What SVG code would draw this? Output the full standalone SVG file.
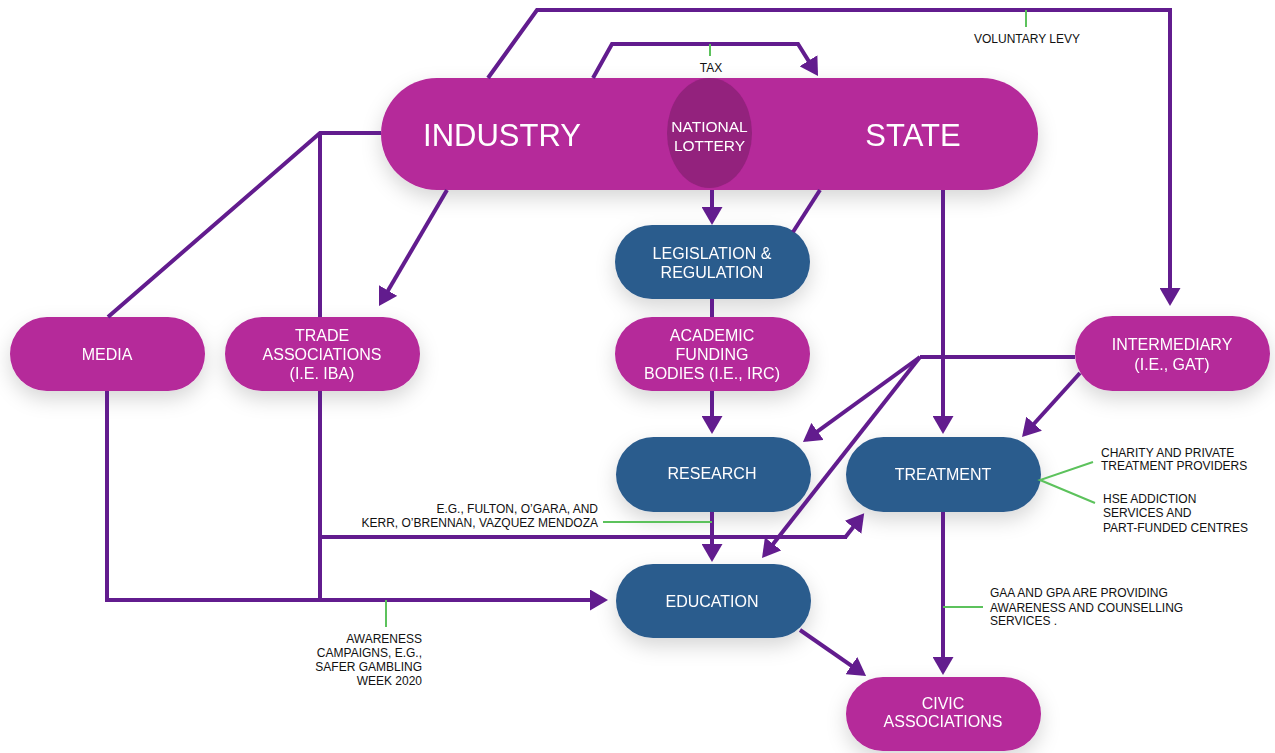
<svg xmlns="http://www.w3.org/2000/svg" width="1275" height="753" viewBox="0 0 1275 753">
<style>
.mag{fill:#b5299a}
.blu{fill:#2c5b8d}
.nt{font-family:"Liberation Sans",Arial,sans-serif;font-size:16px;fill:#fff;text-anchor:middle}
.an{font-family:"Liberation Sans",Arial,sans-serif;font-size:12px;fill:#111}
.ln{fill:none;stroke:#621c8e;stroke-width:4;stroke-linejoin:miter}
.ar{marker-end:url(#ah)}
.gr{fill:none;stroke:#5cc25c;stroke-width:2}
</style>
<defs>
<marker id="ah" viewBox="0 0 18 21" markerWidth="18" markerHeight="21" refX="14" refY="10.5" orient="auto" markerUnits="userSpaceOnUse">
<path d="M0,0 L18,10.5 L0,21 z" fill="#621c8e"/>
</marker>
<filter id="sh" x="-30%" y="-40%" width="160%" height="200%">
<feDropShadow dx="0" dy="8" stdDeviation="10" flood-color="#000" flood-opacity="0.16"/>
</filter>
</defs>
<rect width="1275" height="753" fill="#fff"/>

<g id="nodes" filter="url(#sh)">
<g id="industry-state">
<rect class="mag" x="381" y="78" width="657" height="112" rx="56"/>
<text x="502" y="146" class="nt" style="font-size:31px">INDUSTRY</text>
<text x="913" y="146" class="nt" style="font-size:31px">STATE</text>
</g>
<g id="national-lottery">
<ellipse cx="709.5" cy="133" rx="42.5" ry="55" fill="#93217d"/>
<text x="709.5" y="132" class="nt" style="font-size:15.5px">NATIONAL</text>
<text x="709.5" y="151" class="nt" style="font-size:15.5px">LOTTERY</text>
</g>
<g id="media">
<rect class="mag" x="10" y="317" width="195" height="74" rx="37"/>
<text x="107" y="360" class="nt">MEDIA</text>
</g>
<g id="trade">
<rect class="mag" x="225" y="317" width="195" height="74" rx="37"/>
<text x="322" y="341" class="nt">TRADE</text>
<text x="322" y="360" class="nt">ASSOCIATIONS</text>
<text x="322" y="379" class="nt">(I.E. IBA)</text>
</g>
<g id="legislation">
<rect class="blu" x="615" y="225" width="195" height="74" rx="37"/>
<text x="712" y="259" class="nt">LEGISLATION &amp;</text>
<text x="712" y="278" class="nt">REGULATION</text>
</g>
<g id="academic">
<rect class="mag" x="615" y="317" width="195" height="74" rx="37"/>
<text x="712" y="341" class="nt">ACADEMIC</text>
<text x="712" y="360" class="nt">FUNDING</text>
<text x="712" y="379" class="nt">BODIES (I.E., IRC)</text>
</g>
<g id="intermediary">
<rect class="mag" x="1075" y="316" width="195" height="75" rx="37.5"/>
<text x="1172" y="350" class="nt">INTERMEDIARY</text>
<text x="1172" y="370" class="nt">(I.E., GAT)</text>
</g>
<g id="research">
<rect class="blu" x="616" y="437" width="195" height="75" rx="37.5"/>
<text x="712" y="479" class="nt">RESEARCH</text>
</g>
<g id="treatment">
<rect class="blu" x="846" y="437" width="195" height="75" rx="37.5"/>
<text x="943" y="480" class="nt">TREATMENT</text>
</g>
<g id="education">
<rect class="blu" x="616" y="564" width="195" height="74" rx="37"/>
<text x="712" y="607" class="nt">EDUCATION</text>
</g>
<g id="civic">
<rect class="mag" x="846" y="677" width="195" height="74" rx="37"/>
<text x="943" y="709" class="nt">CIVIC</text>
<text x="943" y="727" class="nt">ASSOCIATIONS</text>
</g>
</g>

<g id="connectors">
<polyline class="ln ar" points="488,78 537,10 1170,10 1170,302"/>
<polyline class="ln ar" points="593,78 612,44 798,44 815.9,72.6"/>
<line class="ln ar" x1="447" y1="190" x2="381" y2="302.6"/>
<polyline class="ln" points="108,317 320,133 381,133"/>
<line class="ln" x1="320" y1="133" x2="320" y2="317"/>
<polyline class="ln" points="320,391 320,537 847,537"/>
<line class="ln ar" x1="845.5" y1="537" x2="861.7" y2="516.3"/>
<line class="ln" x1="320" y1="537" x2="320" y2="600"/>
<polyline class="ln ar" points="107,391 107,600 604,600"/>
<line class="ln ar" x1="712" y1="190" x2="712" y2="221"/>
<line class="ln" x1="712" y1="299" x2="712" y2="317"/>
<line class="ln ar" x1="712" y1="391" x2="712" y2="430"/>
<line class="ln ar" x1="712" y1="512" x2="712" y2="558"/>
<line class="ln" x1="820" y1="190" x2="793" y2="232"/>
<line class="ln ar" x1="943" y1="190" x2="943" y2="430"/>
<polyline class="ln" points="1075,357 920,357"/>
<line class="ln ar" x1="920" y1="357" x2="806.2" y2="439.6"/>
<line class="ln ar" x1="920" y1="357" x2="764.5" y2="554.9"/>
<line class="ln ar" x1="1080" y1="373" x2="1024.7" y2="434"/>
<line class="ln ar" x1="943" y1="512" x2="943" y2="671"/>
<line class="ln ar" x1="800" y1="630" x2="862.8" y2="673.6"/>
</g>

<g id="annotations">
<line class="gr" x1="1026" y1="10" x2="1026" y2="27"/>
<text x="1027" y="43" class="an" text-anchor="middle">VOLUNTARY LEVY</text>
<line class="gr" x1="710" y1="44" x2="710" y2="56"/>
<text x="711" y="72" class="an" text-anchor="middle">TAX</text>
<line class="gr" x1="603" y1="522" x2="712" y2="522"/>
<text x="598" y="513" class="an" text-anchor="end">E.G., FULTON, O’GARA, AND</text>
<text x="598" y="527" class="an" text-anchor="end">KERR, O’BRENNAN, VAZQUEZ MENDOZA</text>
<line class="gr" x1="386" y1="600" x2="386" y2="627"/>
<text x="422" y="643" class="an" text-anchor="end">AWARENESS</text>
<text x="422" y="657" class="an" text-anchor="end">CAMPAIGNS, E.G.,</text>
<text x="422" y="671" class="an" text-anchor="end">SAFER GAMBLING</text>
<text x="422" y="685" class="an" text-anchor="end">WEEK 2020</text>
<polyline class="gr" points="1093,462 1040,480 1095,503"/>
<text x="1101" y="457" class="an">CHARITY AND PRIVATE</text>
<text x="1101" y="470" class="an">TREATMENT PROVIDERS</text>
<text x="1103" y="503" class="an">HSE ADDICTION</text>
<text x="1103" y="517" class="an">SERVICES AND</text>
<text x="1103" y="532" class="an">PART-FUNDED CENTRES</text>
<line class="gr" x1="943" y1="607" x2="983" y2="607"/>
<text x="990" y="597" class="an">GAA AND GPA ARE PROVIDING</text>
<text x="990" y="612" class="an">AWARENESS AND COUNSELLING</text>
<text x="990" y="625" class="an">SERVICES .</text>
</g>
</svg>
